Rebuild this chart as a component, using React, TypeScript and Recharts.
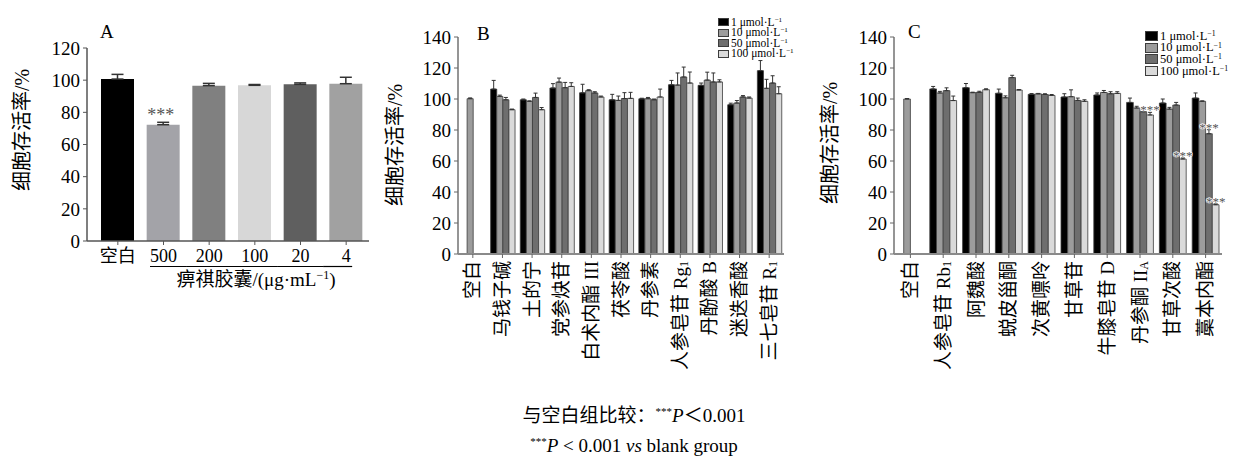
import React from 'react';
import { Bar, BarChart, Cell, ErrorBar, Legend, XAxis, YAxis } from 'recharts';

const SERIF = "'Liberation Serif', 'Noto Sans CJK SC', serif";
const OUTLINE = '#3c3c3c';

type Num = number | null;

// A: 痹祺胶囊 dose series
const doseLabels = ['空白', '500', '200', '100', '20', '4'];
const doseMeans = [100.7, 72.3, 96.6, 96.8, 97.4, 97.8];
const doseErrors = [2.9, 1.5, 1.4, 0.5, 0.9, 4.0];
const doseColors = ['#000000', '#a3a3a8', '#808080', '#d7d7d7', '#5f5f5f', '#a1a1a1'];
const doseSig = [false, true, false, false, false, false];

// concentrations shared by B and C
const concLevels = ['1', '10', '50', '100'];
const concColors = ['#000000', '#9c9c9c', '#6e6e6e', '#dadada'];

// B
const compoundsB = ['空白', '马钱子碱', '土的宁', '党参炔苷', '白术内酯 III', '茯苓酸', '丹参素', '人参皂苷 Rg_1', '丹酚酸 B', '迷迭香酸', '三七皂苷 R_1'];
const b1 = [null, 106.4, 99.5, 107.1, 104.0, 99.5, 100.1, 109.2, 108.8, 96.3, 118.3];
const b10 = [100.2, 101.7, 98.5, 110.9, 105.4, 99.1, 100.2, 109.0, 112.2, 97.4, 106.9];
const b50 = [null, 99.5, 101.0, 107.3, 103.9, 100.3, 99.5, 114.2, 111.0, 101.3, 110.3];
const b100 = [null, 93.1, 93.1, 108.1, 101.3, 100.4, 101.3, 110.3, 111.0, 100.6, 103.4];
const b1Err = [null, 5.6, 0.5, 2.8, 5.5, 3.5, 0.4, 2.8, 1.5, 1.0, 6.5];
const b10Err = [0.5, 0.8, 0.3, 2.6, 0.6, 2.8, 0.8, 7.8, 5.1, 1.6, 5.8];
const b50Err = [null, 1.5, 2.8, 3.4, 0.8, 3.8, 0.5, 6.4, 5.8, 0.9, 4.7];
const b100Err = [null, 0.4, 1.4, 2.4, 0.6, 3.9, 5.1, 7.1, 1.4, 0.7, 4.5];
const noSig = compoundsB.map(() => false);

// C
const compoundsC = ['空白', '人参皂苷 Rb_1', '阿魏酸', '蜕皮甾酮', '次黄嘌呤', '甘草苷', '牛膝皂苷 D', '丹参酮 II_A', '甘草次酸', '藁本内酯'];
const c1 = [null, 106.5, 107.3, 103.7, 103.0, 101.3, 102.6, 97.8, 97.4, 100.6];
const c10 = [100.0, 103.9, 104.1, 100.8, 103.3, 101.5, 104.2, 94.2, 93.5, 98.5];
const c50 = [null, 105.4, 104.3, 113.8, 102.9, 99.1, 103.4, 91.8, 96.1, 77.6];
const c100 = [null, 99.0, 106.0, 105.8, 102.3, 98.5, 103.6, 89.7, 61.3, 31.8];
const c1Err = [null, 1.6, 2.7, 2.7, 0.5, 2.1, 1.3, 2.8, 2.6, 3.3];
const c10Err = [0.3, 1.0, 0.3, 1.2, 0.3, 4.4, 1.3, 1.1, 1.1, 0.3];
const c50Err = [null, 1.8, 0.7, 1.5, 0.5, 1.5, 1.3, 1.7, 1.7, 2.6];
const c100Err = [null, 2.9, 0.6, 0.3, 0.6, 1.0, 1.1, 1.7, 0.7, 0.6];
const c50Sig = [false, false, false, false, false, false, false, false, false, true];
const c100Sig = [false, false, false, false, false, false, false, true, true, true];

const buildRows = (names: string[], means: Num[][], errors: Num[][]) =>
  names.map((name, i) => {
    const row: Record<string, unknown> = { name };
    means.forEach((m, s) => {
      row[`m${s}`] = m[i];
      row[`e${s}`] = m[i] == null ? null : [0, errors[s][i] ?? 0];
    });
    return row;
  });

const rowsA = doseLabels.map((name, i) => ({ name, mean: doseMeans[i], err: [0, doseErrors[i]] }));
const rowsB = buildRows(compoundsB, [b1, b10, b50, b100], [b1Err, b10Err, b50Err, b100Err]);
const rowsC = buildRows(compoundsC, [c1, c10, c50, c100], [c1Err, c10Err, c50Err, c100Err]);

// *** placed just above the error cap of the flagged bar
// (label index skips empty bars, so the bar is found from its value)
const sigLabel = (flags: boolean[], means: Num[], errors: Num[], fontSize: number, lift: number, dx: number) =>
  (props: any) => {
    const { x, y, width, height, value } = props;
    const v = Array.isArray(value) ? value[1] : value;
    const i = means.indexOf(Number(v));
    if (i < 0 || !flags[i]) return null;
    const perUnit = Number(height) / Number(means[i]);
    const capY = Number(y) - (errors[i] ?? 0) * perUnit;
    return (
      <text x={Number(x) + Number(width) / 2 + dx} y={capY - lift} textAnchor="middle" fontSize={fontSize} fontFamily={SERIF}
        fill="#555" stroke="#fff" strokeWidth={1.2} paintOrder="stroke">
        ***
      </text>
    );
  };

const yTitle = (x: number, y: number) => () => (
  <text transform={`translate(${x},${y}) rotate(-90)`} textAnchor="middle" dominantBaseline="central" fontSize={20} fontFamily={SERIF} fill="#000">
    细胞存活率/%
  </text>
);

const DoseTick = (props: any) => {
  const { x, y, payload, index } = props;
  const last = index === doseLabels.length - 1;
  return (
    <g>
      <text x={x} y={y} dy={15} textAnchor="middle" fontSize={18} fontFamily={SERIF} fill="#000">
        {payload.value}
      </text>
      {index > 0 && <line x1={index === 1 ? x - 13.5 : x - 23} x2={last ? x + 6 : x + 23} y1={y + 19.5} y2={y + 19.5} stroke="#000" strokeWidth={1.2} />}
    </g>
  );
};

const NameTick = (props: any) => {
  const { x, y, payload } = props;
  const [main, sub] = String(payload.value).split('_');
  return (
    <text transform={`translate(${x},${y + 1}) rotate(-90)`} textAnchor="end" dominantBaseline="central" fontSize={19} fontFamily={SERIF} fill="#000">
      {main}
      {sub && <tspan fontSize={12} dy="0.35em">{sub}</tspan>}
    </text>
  );
};

const concLegend = (rowH: number, boxW: number, boxH: number, fontSize: number) => () => (
  <div style={{ fontFamily: SERIF, fontSize, color: '#000', lineHeight: 1 }}>
    {concLevels.map((c, i) => (
      <div key={c} style={{ display: 'flex', alignItems: 'center', height: rowH, whiteSpace: 'nowrap' }}>
        <span style={{ display: 'inline-block', width: boxW, height: boxH, background: concColors[i], border: `1px solid ${OUTLINE}`, boxSizing: 'border-box', marginRight: 2 }} />
        <span>
          {c} μmol·L<span style={{ fontSize: '0.62em', position: 'relative', top: '-0.5em' }}>−1</span>
        </span>
      </div>
    ))}
  </div>
);

const yTicksA = [0, 20, 40, 60, 80, 100, 120];
const yTicksBC = [0, 20, 40, 60, 80, 100, 120, 140];
const tickStyle = { fill: '#000', fontSize: 19, fontFamily: SERIF };

function PanelA() {
  return (
    <BarChart width={380} height={300} data={rowsA} margin={{ top: 48, right: 11, bottom: 0, left: 0 }}>
      <XAxis dataKey="name" height={59} interval={0} padding={{ left: 8, right: 0 }} tick={<DoseTick />} tickSize={4} axisLine={{ stroke: '#555', strokeWidth: 1.5 }} tickLine={{ stroke: '#555' }}
        label={() => (
          <text x={256} y={286} textAnchor="middle" fontSize={19} fontFamily={SERIF} fill="#000">
            痹祺胶囊/(μg·mL<tspan fontSize={12} dy={-7}>−1</tspan><tspan dy={7}>)</tspan>
          </text>
        )}
      />
      <YAxis width={87} domain={[0, 120]} ticks={yTicksA} interval={0} tick={tickStyle} tickSize={4} tickMargin={3} axisLine={{ stroke: '#555', strokeWidth: 1.5 }} tickLine={{ stroke: '#555' }} label={yTitle(21.7, 130)} />
      <Bar dataKey="mean" barSize={33} isAnimationActive={false} label={sigLabel(doseSig, doseMeans, doseErrors, 18, 1, -2.5)}>
        {rowsA.map((r, i) => (
          <Cell key={r.name} fill={doseColors[i]} />
        ))}
        <ErrorBar dataKey="err" width={6} stroke="#333" strokeWidth={1.5} direction="y" />
      </Bar>
    </BarChart>
  );
}

type ConcProps = {
  width: number;
  right: number;
  yAxisWidth: number;
  rows: Record<string, unknown>[];
  means: Num[][];
  errors: Num[][];
  sig: boolean[][];
  barSize: number;
  titleX: number;
  titleY: number;
  legend: { left: number; top: number; rowH: number; boxW: number; boxH: number; fontSize: number };
};

function ConcPanel(p: ConcProps) {
  return (
    <BarChart width={p.width} height={400} data={p.rows} barGap={0} margin={{ top: 37, right: p.right, bottom: 0, left: 0 }}>
      <XAxis dataKey="name" height={146} interval={0} tick={<NameTick />} tickSize={4} axisLine={{ stroke: '#8a8a8a', strokeWidth: 1.8 }} tickLine={{ stroke: '#666' }} />
      <YAxis width={p.yAxisWidth} domain={[0, 140]} ticks={yTicksBC} interval={0} tick={tickStyle} tickSize={4} tickMargin={3} axisLine={{ stroke: '#8a8a8a', strokeWidth: 1.8 }} tickLine={{ stroke: '#666' }} label={yTitle(p.titleX, p.titleY)} />
      <Legend layout="vertical" align="center" verticalAlign="middle" content={concLegend(p.legend.rowH, p.legend.boxW, p.legend.boxH, p.legend.fontSize)}
        wrapperStyle={{ left: p.legend.left, top: p.legend.top, right: 'auto', bottom: 'auto', width: 'auto' }} />
      {concColors.map((color, s) => (
        <Bar key={s} dataKey={`m${s}`} name={`${concLevels[s]} μmol·L−1`} fill={color} stroke={OUTLINE} strokeWidth={0.8} barSize={p.barSize} isAnimationActive={false}
          label={sigLabel(p.sig[s], p.means[s], p.errors[s], 13, -2, 0)}>
          <ErrorBar dataKey={`e${s}`} width={2} stroke="#333" strokeWidth={1} direction="y" />
        </Bar>
      ))}
    </BarChart>
  );
}

const letterStyle: React.CSSProperties = { position: 'absolute', fontSize: 19, lineHeight: '19px', fontFamily: SERIF, color: '#000' };
const supStyle: React.CSSProperties = { fontSize: 11, position: 'relative', top: -7, verticalAlign: 'baseline' };

export default function App() {
  return (
    <div style={{ position: 'absolute', left: 0, top: 0, width: 1234, height: 457, background: '#fff', fontFamily: SERIF, overflow: 'hidden' }}>
      <div style={{ position: 'absolute', left: 0, top: 0 }}>
        <PanelA />
      </div>
      <div style={{ position: 'absolute', left: 380, top: 0 }}>
        <ConcPanel width={430} right={26} yAxisWidth={78} rows={rowsB} means={[b1, b10, b50, b100]} errors={[b1Err, b10Err, b50Err, b100Err]}
          sig={[noSig, noSig, noSig, noSig]} barSize={6.1} titleX={15} titleY={145}
          legend={{ left: 338, top: 17, rowH: 10.5, boxW: 11, boxH: 8, fontSize: 11.5 }} />
      </div>
      <div style={{ position: 'absolute', left: 800, top: 0 }}>
        <ConcPanel width={434} right={12} yAxisWidth={94} rows={rowsC} means={[c1, c10, c50, c100]} errors={[c1Err, c10Err, c50Err, c100Err]}
          sig={[noSig, noSig, c50Sig, c100Sig]} barSize={6.7} titleX={30} titleY={143}
          legend={{ left: 345, top: 30, rowH: 11.8, boxW: 13, boxH: 10, fontSize: 12.5 }} />
      </div>
      <div style={{ ...letterStyle, left: 100, top: 22 }}>A</div>
      <div style={{ ...letterStyle, left: 477, top: 23.5 }}>B</div>
      <div style={{ ...letterStyle, left: 908, top: 22 }}>C</div>
      <div style={{ position: 'absolute', left: 0, width: 1268, top: 404.5, textAlign: 'center', fontSize: 19, lineHeight: '22px' }}>
        与空白组比较：<span style={supStyle}>***</span><i>P</i>＜0.001
      </div>
      <div style={{ position: 'absolute', left: 0, width: 1268, top: 435, textAlign: 'center', fontSize: 19, lineHeight: '22px' }}>
        <span style={supStyle}>***</span><i>P</i> &lt; 0.001 <i>vs</i> blank group
      </div>
    </div>
  );
}
